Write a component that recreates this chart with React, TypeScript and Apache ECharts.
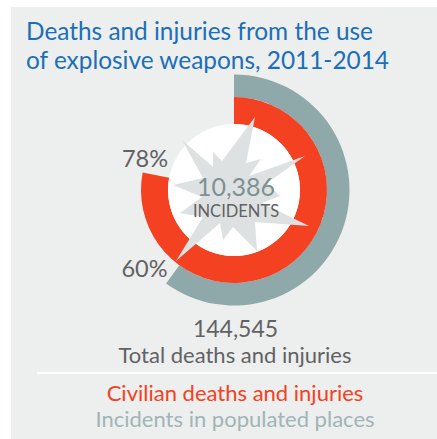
import React, { useEffect, useRef } from "react";
import * as echarts from "echarts";

const titleLines = ["Deaths and injuries from the use", "of explosive weapons, 2011-2014"];
const civilianShare = [78, 22];
const populatedShare = [60, 40];
const incidentsLabel = "10,386";
const totalLabel = "144,545";

const RED = "#f44122";
const TEAL = "#8fa8a9";
const INK = "#616264";
const FONT = "Lato";

// Outline of the blast shape behind the central figures.
const burstOutline: number[][] = [
  [255, 117], [246, 163], [261, 159], [249, 176], [305, 156], [267, 183], [280, 196],
  [262, 203], [309, 226], [255, 222], [257, 251], [233, 227], [223, 240], [220, 223],
  [176, 261], [203, 217], [180, 213], [202, 197], [173, 185], [203, 178], [182, 140],
  [213, 167], [213, 152], [222, 161],
];

const text = (
  str: string,
  x: number,
  y: number,
  fontSize: number,
  fill: string,
  textAlign: "left" | "center" = "center",
) => ({
  type: "text",
  z: 20,
  x,
  y,
  style: { text: str, x: 0, y: 0, fontSize, fill, textAlign, textVerticalAlign: "middle", fontFamily: FONT },
});

const ring = (radius: [number, number], values: number[], color: string) => ({
  type: "pie",
  silent: true,
  clockwise: true,
  startAngle: 90,
  center: [234, 190],
  radius,
  label: { show: false },
  labelLine: { show: false },
  itemStyle: { borderWidth: 0 },
  data: [
    { value: values[0], itemStyle: { color } },
    { value: values[1], itemStyle: { color: "rgba(0,0,0,0)" } },
  ],
});

export default function App() {
  const ref = useRef<HTMLDivElement>(null);

  useEffect(() => {
    const chart = echarts.init(ref.current!, undefined, { renderer: "svg" });
    chart.setOption({
      animation: false,
      series: [
        ring([93, 115.5], populatedShare, TEAL),
        ring([66, 93], civilianShare, RED),
        {
          type: "pie",
          silent: true,
          center: [234, 190],
          radius: [0, 66],
          label: { show: false },
          labelLine: { show: false },
          data: [{ value: 1, itemStyle: { color: "#ffffff" } }],
        },
      ],
      graphic: [
        {
          type: "polygon",
          z: 10,
          shape: { points: burstOutline },
          style: { fill: "#dee1e1" },
        },
        { type: "rect", z: 10, shape: { x: 37, y: 372, width: 400, height: 2 }, style: { fill: "#ffffff" } },
        text(titleLines[0], 26, 30, 24.4, "#1b6fb9", "left"),
        text(titleLines[1], 26, 59, 24.4, "#1b6fb9", "left"),
        text(`${civilianShare[0]}%`, 145, 158, 23.5, INK),
        text(`${populatedShare[0]}%`, 144.5, 268, 23.5, INK),
        text(incidentsLabel, 236, 186, 25, "#7c9294"),
        text("INCIDENTS", 236, 210.5, 16.5, INK),
        text(totalLabel, 235.5, 327.5, 23, INK),
        text("Total deaths and injuries", 235, 354.5, 22, INK),
        text("Civilian deaths and injuries", 235, 392.5, 22, RED),
        text("Incidents in populated places", 235, 418.5, 22, "#9fb5b6"),
      ],
    });
    return () => chart.dispose();
  }, []);

  return (
    <div style={{ position: "fixed", left: 0, top: 0, width: 437, height: 439, background: "#ffffff" }}>
      <div style={{ position: "absolute", left: 11, top: 7, right: 0, bottom: 0, background: "#edeeee" }} />
      <div ref={ref} style={{ position: "absolute", left: 0, top: 0, width: 437, height: 439 }} />
    </div>
  );
}
